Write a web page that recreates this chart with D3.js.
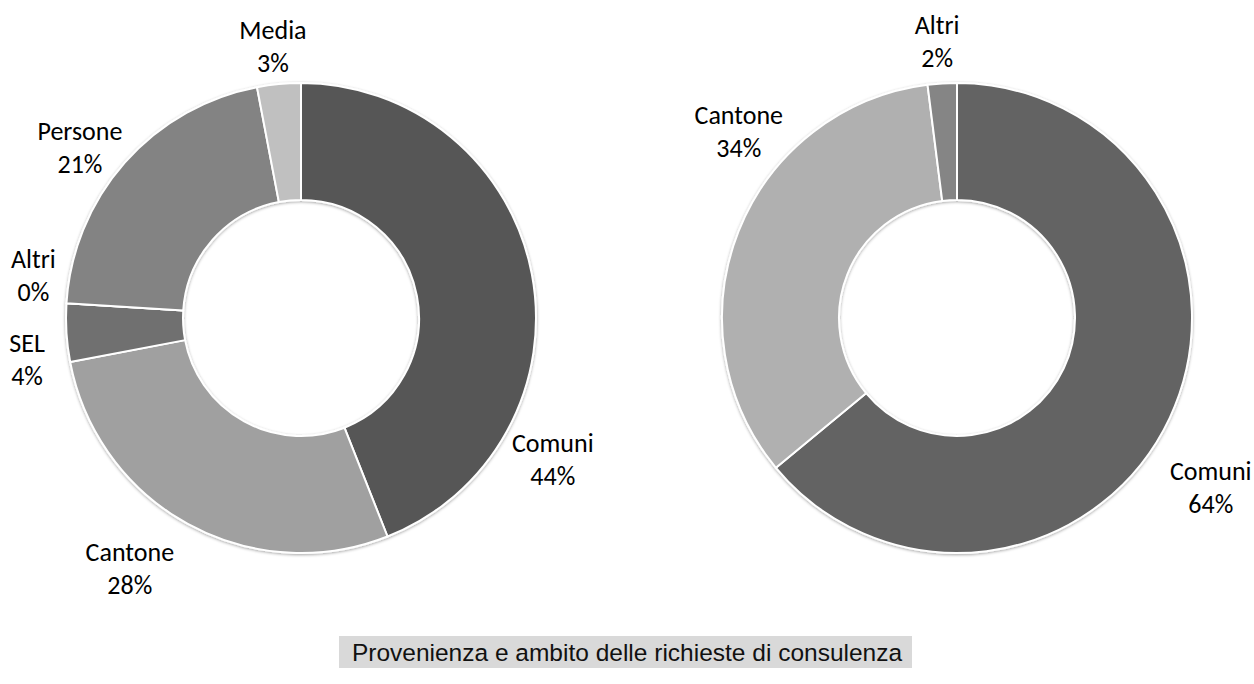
<!DOCTYPE html>
<html>
<head>
<meta charset="utf-8">
<script src="https://cdn.jsdelivr.net/npm/d3@7/dist/d3.min.js"></script>
<style>
  html, body { margin: 0; padding: 0; background: #ffffff; }
  svg { display: block; }
  .lbl { font-family: Carlito, Lato, "Open Sans", sans-serif; font-size: 26px; fill: #000; }
  .title { font-family: "Liberation Sans", Arial, sans-serif; font-size: 24.5px; fill: #111; }
</style>
</head>
<body>
<svg id="chart" width="1254" height="684"></svg>
<script>
// Richieste per provenienza (sinistra) e per ambito (destra), in percentuale
const leftCategories = ["Comuni", "Cantone", "SEL", "Altri", "Persone", "Media"];
const leftValues = [44, 28, 4, 0, 21, 3];
const rightCategories = ["Comuni", "Cantone", "Altri"];
const rightValues = [64, 34, 2];
const titleText = "Provenienza e ambito delle richieste di consulenza";

// Grey palette per slice
const leftColors = ["#575757", "#a0a0a0", "#707070", "#7a7a7a", "#838383", "#c0c0c0"];
const rightColors = ["#636363", "#b0b0b0", "#858585"];

// Label placement: angular nudge (degrees) from the slice's mid angle, and radius
const leftLabelNudge = [40.2, 5.6, -4.9, 5.5, -3.8, -0.5];
const leftLabelRadius = [289, 303, 277, 271, 279, 273];
const rightLabelNudge = [8.5, 18.9, -0.5];
const rightLabelRadius = [305, 287, 277];

const svg = d3.select("#chart");
const defs = svg.append("defs");
const shadow = defs.append("filter").attr("id", "soft")
  .attr("x", "-10%").attr("y", "-10%").attr("width", "120%").attr("height", "120%");
shadow.append("feDropShadow")
  .attr("dx", 0).attr("dy", 1).attr("stdDeviation", 1.6)
  .attr("flood-color", "#000").attr("flood-opacity", 0.35);

const outerR = 235, innerR = 118;
const pie = d3.pie().sort(null).value(d => d.value);
const arc = d3.arc().innerRadius(innerR).outerRadius(outerR);
const toRad = Math.PI / 180;

function donut(cx, cy, cats, vals, colors, nudges, radii) {
  const data = cats.map((c, i) => ({ cat: c, value: vals[i], color: colors[i], nudge: nudges[i], r: radii[i] }));
  const arcs = pie(data);
  const g = svg.append("g").attr("transform", `translate(${cx},${cy})`);

  g.append("g").attr("filter", "url(#soft)")
    .selectAll("path").data(arcs).join("path")
    .attr("d", arc)
    .attr("fill", d => d.data.color)
    .attr("stroke", "#ffffff")
    .attr("stroke-width", 2)
    .attr("stroke-linejoin", "round");

  const fmt = d3.format(".0%");
  const lab = g.append("g").selectAll("text").data(arcs).join("text")
    .attr("class", "lbl")
    .attr("text-anchor", "middle")
    .attr("transform", d => {
      const mid = (d.startAngle + d.endAngle) / 2 + d.data.nudge * toRad;
      const [x, y] = d3.pointRadial(mid, d.data.r);
      return `translate(${x},${y})`;
    });
  lab.append("tspan").attr("x", 0).attr("y", -16.5).attr("dy", "0.35em").text(d => d.data.cat);
  lab.append("tspan").attr("x", 0).attr("y", 16.5).attr("dy", "0.35em").text(d => fmt(d.data.value / 100));
}

donut(301, 318, leftCategories, leftValues, leftColors, leftLabelNudge, leftLabelRadius);
donut(957, 318, rightCategories, rightValues, rightColors, rightLabelNudge, rightLabelRadius);

// Caption band
const cap = svg.append("g");
cap.append("rect").attr("x", 339).attr("y", 636).attr("width", 573).attr("height", 32).attr("fill", "#d9d9d9");
cap.append("text").attr("class", "title").attr("x", 627).attr("y", 660.5)
  .attr("text-anchor", "middle").text(titleText);
</script>
</body>
</html>
